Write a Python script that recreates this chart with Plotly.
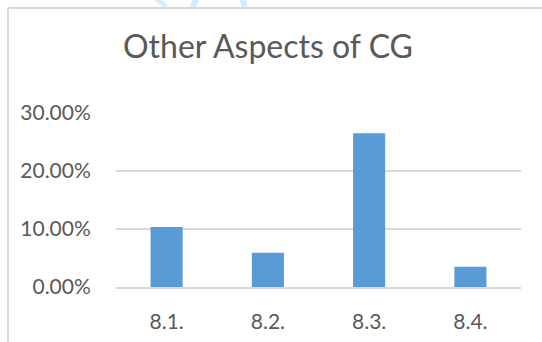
import plotly.graph_objects as go

# Share of responses per governance item
categories = ["8.1.", "8.2.", "8.3.", "8.4."]
shares = [0.1036, 0.0589, 0.2650, 0.0349]
y_ticks = [0.0, 0.10, 0.20, 0.30]

W, H = 542, 342
M_L, M_R, M_T, M_B = 116, 21, 113, 55
plot_w = W - M_L - M_R
plot_h = H - M_T - M_B


def px_x(x):
    return (x - M_L) / plot_w


def px_y(y):
    return (H - M_B - y) / plot_h


grey = "#595959"
grid = "#d9d9d9"

fig = go.Figure(
    go.Bar(
        x=categories,
        y=shares,
        marker=dict(color="#5b9bd5", line=dict(width=0)),
        hoverinfo="skip",
    )
)

shapes = [
    # faint watermark ring above the chart frame
    dict(type="circle", xref="paper", yref="paper", layer="below",
         x0=px_x(193), x1=px_x(245), y0=px_y(-14), y1=px_y(36),
         line=dict(color="#d3eefb", width=6)),
    dict(type="line", xref="paper", yref="paper", layer="below",
         x0=px_x(157), x1=px_x(166), y0=px_y(-1), y1=px_y(7),
         line=dict(color="#d3eefb", width=5)),
    # white chart area hiding the watermark below the frame
    dict(type="rect", xref="paper", yref="paper", layer="below",
         x0=px_x(8), x1=px_x(W + 2), y0=px_y(H + 2), y1=px_y(8),
         fillcolor="white", line=dict(width=0)),
    # chart frame (top and left edges)
    dict(type="line", xref="paper", yref="paper", layer="above",
         x0=px_x(8), x1=px_x(W + 2), y0=px_y(8), y1=px_y(8),
         line=dict(color=grid, width=2)),
    dict(type="line", xref="paper", yref="paper", layer="above",
         x0=px_x(8), x1=px_x(8), y0=px_y(8), y1=px_y(H + 2),
         line=dict(color=grid, width=2)),
]

fig.update_layout(
    width=W,
    height=H,
    margin=dict(l=M_L, r=M_R, t=M_T, b=M_B, autoexpand=False),
    paper_bgcolor="white",
    plot_bgcolor="rgba(0,0,0,0)",
    bargap=0.683,
    showlegend=False,
    font=dict(family="Lato", color=grey),
    title=dict(
        text="Other Aspects of CG",
        font=dict(family="Lato", size=32, color=grey),
        xref="container", x=268 / W, xanchor="center",
        yref="container", y=1 - 47 / H, yanchor="middle",
    ),
    shapes=shapes,
)

fig.update_xaxes(
    automargin=False,
    showgrid=False,
    showline=True,
    linecolor=grid,
    linewidth=2,
    zeroline=False,
    ticks="outside",
    ticklen=15,
    tickcolor="rgba(0,0,0,0)",
    tickfont=dict(family="Lato", size=21, color=grey),
    fixedrange=True,
)

fig.update_yaxes(
    automargin=False,
    range=[0, 0.30],
    autorange=False,
    tickvals=y_ticks,
    tickformat=".2%",
    showgrid=True,
    gridcolor=grid,
    gridwidth=2,
    zeroline=False,
    showline=False,
    ticks="outside",
    ticklen=20,
    tickcolor="rgba(0,0,0,0)",
    tickfont=dict(family="Lato", size=21, color=grey),
    fixedrange=True,
)

fig.write_html("out.html", config={"displayModeBar": False})
